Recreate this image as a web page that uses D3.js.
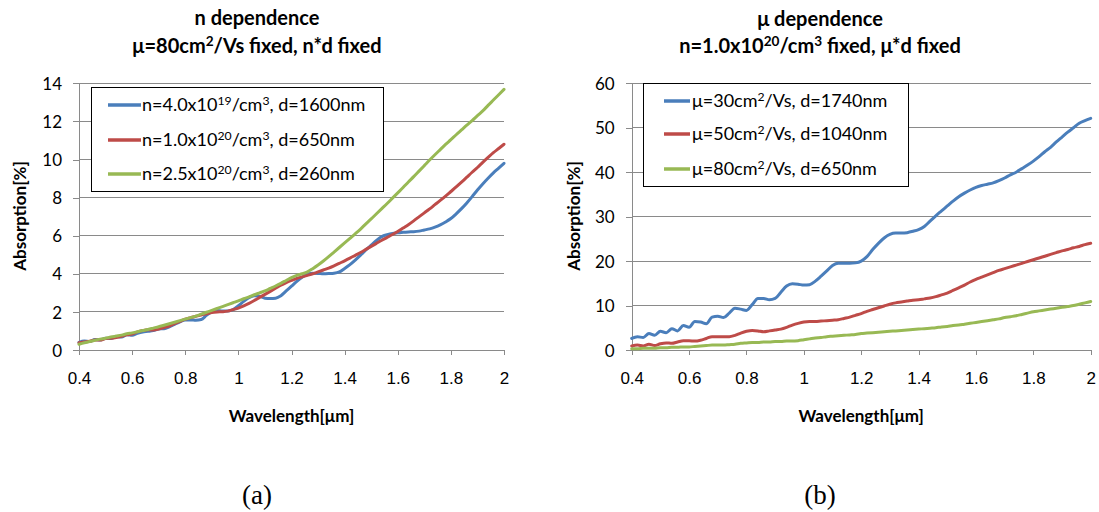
<!DOCTYPE html>
<html>
<head>
<meta charset="utf-8">
<script src="https://cdn.jsdelivr.net/npm/d3@7"></script>
<style>
  html, body { margin: 0; padding: 0; background: #fff; }
  svg { display: block; }
  .title { font-family: Lato, "Open Sans", sans-serif; font-weight: bold; font-size: 20px; fill: #000; }
  .axis-title { font-family: Lato, "Open Sans", sans-serif; font-weight: bold; font-size: 17px; fill: #000; }
  .ytick { font-family: Lato, "Open Sans", sans-serif; font-size: 17px; fill: #000; }
  .xtick { font-family: "Liberation Sans", Arial, sans-serif; font-size: 17px; fill: #000; }
  .legend { font-family: Lato, "Open Sans", sans-serif; font-size: 18px; fill: #000; }
  .caption { font-family: "Liberation Serif", "Times New Roman", serif; font-size: 27px; fill: #000; }
</style>
</head>
<body>
<svg id="chart" width="1099" height="512"></svg>
<script>
// Wavelength grid shared by every series (µm)
const wavelength = [
  0.40, 0.42, 0.44, 0.46, 0.48, 0.50, 0.52, 0.54, 0.56, 0.58,
  0.60, 0.62, 0.64, 0.66, 0.68, 0.70, 0.72, 0.74, 0.76, 0.78,
  0.80, 0.82, 0.84, 0.86, 0.88, 0.90, 0.92, 0.94, 0.96, 0.98,
  1.00, 1.02, 1.04, 1.06, 1.08, 1.10, 1.12, 1.14, 1.16, 1.18,
  1.20, 1.22, 1.24, 1.26, 1.28, 1.30, 1.32, 1.34, 1.36, 1.38,
  1.40, 1.42, 1.44, 1.46, 1.48, 1.50, 1.52, 1.54, 1.56, 1.58,
  1.60, 1.62, 1.64, 1.66, 1.68, 1.70, 1.72, 1.74, 1.76, 1.78,
  1.80, 1.82, 1.84, 1.86, 1.88, 1.90, 1.92, 1.94, 1.96, 1.98,
  2.00
];

// (a) n dependence: absorption [%]
const absN40e19 = [
  0.40, 0.47, 0.44, 0.55, 0.52, 0.62, 0.60, 0.70, 0.68, 0.80,
  0.78, 0.88, 0.95, 0.98, 1.02, 1.10, 1.12, 1.22, 1.35, 1.48,
  1.58, 1.58, 1.56, 1.60, 1.82, 2.00, 2.08, 2.05, 2.05, 2.12,
  2.32, 2.55, 2.75, 2.85, 2.82, 2.72, 2.70, 2.72, 2.85, 3.10,
  3.35, 3.60, 3.82, 3.98, 4.03, 4.02, 4.00, 4.01, 4.03, 4.10,
  4.28, 4.48, 4.72, 4.98, 5.25, 5.50, 5.75, 5.95, 6.05, 6.12,
  6.15, 6.18, 6.20, 6.21, 6.24, 6.30, 6.36, 6.45, 6.57, 6.72,
  6.90, 7.15, 7.42, 7.72, 8.05, 8.40, 8.72, 9.02, 9.30, 9.55,
  9.80
];
const absN10e20 = [
  0.38, 0.42, 0.46, 0.52, 0.52, 0.60, 0.62, 0.66, 0.72, 0.80,
  0.84, 0.95, 1.02, 1.06, 1.05, 1.10, 1.18, 1.26, 1.38, 1.50,
  1.62, 1.70, 1.77, 1.84, 1.90, 1.97, 2.00, 2.01, 2.04, 2.12,
  2.20, 2.32, 2.45, 2.60, 2.76, 2.92, 3.08, 3.24, 3.40, 3.53,
  3.65, 3.76, 3.84, 3.92, 4.00, 4.10, 4.20, 4.30, 4.42, 4.55,
  4.68, 4.82, 4.97, 5.12, 5.28, 5.44, 5.60, 5.76, 5.91, 6.06,
  6.22, 6.40, 6.58, 6.78, 6.99, 7.20, 7.41, 7.63, 7.85, 8.08,
  8.32, 8.56, 8.81, 9.07, 9.33, 9.58, 9.85, 10.11, 10.36, 10.58,
  10.80
];
const absN25e20 = [
  0.30, 0.38, 0.45, 0.51, 0.57, 0.62, 0.68, 0.73, 0.78, 0.85,
  0.90, 0.96, 1.02, 1.08, 1.15, 1.22, 1.30, 1.38, 1.46, 1.54,
  1.62, 1.70, 1.78, 1.88, 1.98, 2.08, 2.18, 2.28, 2.38, 2.48,
  2.58, 2.69, 2.79, 2.90, 3.00, 3.10, 3.23, 3.36, 3.50, 3.65,
  3.80, 3.92, 4.00, 4.10, 4.27, 4.46, 4.67, 4.90, 5.14, 5.38,
  5.62, 5.86, 6.10, 6.35, 6.62, 6.88, 7.15, 7.42, 7.69, 7.97,
  8.25, 8.53, 8.82, 9.10, 9.39, 9.68, 9.97, 10.25, 10.52, 10.79,
  11.04, 11.30, 11.55, 11.80, 12.04, 12.30, 12.55, 12.84, 13.12, 13.40,
  13.68
];

// (b) µ dependence: absorption [%]
const absMu30 = [
  2.6, 3.0, 2.8, 3.7, 3.3, 4.2, 3.9, 4.8, 4.3, 5.5,
  5.1, 6.4, 6.3, 5.9, 7.4, 7.6, 7.3, 8.3, 9.4, 9.2,
  8.9, 10.2, 11.6, 11.6, 11.3, 11.6, 13.0, 14.4, 14.9, 14.8,
  14.6, 14.7, 15.5, 16.6, 17.8, 19.0, 19.5, 19.5, 19.5, 19.6,
  20.0, 21.0, 22.6, 24.0, 25.2, 26.0, 26.3, 26.3, 26.4, 26.7,
  27.1, 27.8, 29.0, 30.2, 31.3, 32.4, 33.5, 34.5, 35.3, 36.0,
  36.6, 37.0, 37.3, 37.6, 38.1, 38.7, 39.4, 40.0, 40.8, 41.6,
  42.5, 43.5, 44.6, 45.6, 46.8, 47.9, 49.0, 50.0, 51.0, 51.6,
  52.1
];
const absMu50 = [
  0.9, 1.1, 0.9, 1.3, 1.0, 1.4, 1.6, 1.5, 1.8, 2.1,
  2.1, 2.0, 2.2, 2.6, 3.0, 3.0, 3.0, 3.0, 3.3, 3.8,
  4.2, 4.4, 4.3, 4.1, 4.3, 4.5, 4.7, 5.1, 5.6, 6.0,
  6.3, 6.4, 6.4, 6.5, 6.6, 6.7, 6.8, 7.1, 7.4, 7.8,
  8.2, 8.7, 9.1, 9.5, 9.9, 10.3, 10.6, 10.8, 11.0, 11.2,
  11.3, 11.5, 11.7, 12.0, 12.4, 12.8, 13.4, 14.0, 14.6, 15.3,
  15.9, 16.4, 16.9, 17.4, 17.9, 18.3, 18.7, 19.1, 19.5, 19.9,
  20.3, 20.7, 21.1, 21.5, 21.9, 22.3, 22.6, 23.0, 23.3, 23.7,
  24.0
];
const absMu80 = [
  0.3, 0.3, 0.4, 0.4, 0.4, 0.5, 0.5, 0.6, 0.6, 0.7,
  0.7, 0.8, 0.9, 1.0, 1.1, 1.1, 1.1, 1.2, 1.3, 1.5,
  1.6, 1.7, 1.7, 1.8, 1.8, 1.9, 1.9, 2.0, 2.0, 2.1,
  2.3, 2.5, 2.7, 2.8, 3.0, 3.1, 3.2, 3.3, 3.4, 3.5,
  3.7, 3.8, 3.9, 4.0, 4.1, 4.2, 4.3, 4.4, 4.5, 4.6,
  4.7, 4.8, 4.9, 5.0, 5.2, 5.3, 5.5, 5.6, 5.8, 6.0,
  6.2, 6.4, 6.6, 6.8, 7.0, 7.3, 7.5, 7.7, 8.0, 8.3,
  8.6, 8.8, 9.0, 9.2, 9.4, 9.6, 9.8, 10.0, 10.3, 10.6,
  10.9
];

// Axis ticks
const xTicks = [0.4, 0.6, 0.8, 1.0, 1.2, 1.4, 1.6, 1.8, 2.0];
const xTickLabels = ["0.4", "0.6", "0.8", "1", "1.2", "1.4", "1.6", "1.8", "2"];
const yTicksA = [0, 2, 4, 6, 8, 10, 12, 14];
const yTicksB = [0, 10, 20, 30, 40, 50, 60];

// Legend entries: text pieces, superscripts marked with sup:true
const legendA = [
  [{t: "n=4.0x10"}, {t: "19", sup: true}, {t: "/cm"}, {t: "3", sup: true}, {t: ", d=1600nm"}],
  [{t: "n=1.0x10"}, {t: "20", sup: true}, {t: "/cm"}, {t: "3", sup: true}, {t: ", d=650nm"}],
  [{t: "n=2.5x10"}, {t: "20", sup: true}, {t: "/cm"}, {t: "3", sup: true}, {t: ", d=260nm"}]
];
const legendB = [
  [{t: "μ=30cm"}, {t: "2", sup: true}, {t: "/Vs, d=1740nm"}],
  [{t: "μ=50cm"}, {t: "2", sup: true}, {t: "/Vs, d=1040nm"}],
  [{t: "μ=80cm"}, {t: "2", sup: true}, {t: "/Vs, d=650nm"}]
];
const titleA = [
  [{t: "n dependence"}],
  [{t: "μ=80cm"}, {t: "2", sup: true}, {t: "/Vs fixed, n*d fixed"}]
];
const titleB = [
  [{t: "μ dependence"}],
  [{t: "n=1.0x10"}, {t: "20", sup: true}, {t: "/cm"}, {t: "3", sup: true}, {t: " fixed, μ*d fixed"}]
];

const colors = ["#4A7EBB", "#BE4B48", "#98B954"];
const gridColor = "#8a8a8a";

const svg = d3.select("#chart");

function richText(sel, pieces) {
  pieces.forEach(p => {
    const ts = sel.append("tspan").text(p.t);
    if (p.sup) ts.attr("font-size", "0.68em").attr("baseline-shift", "48%");
  });
}

function panel(opt) {
  const g = svg.append("g");
  const x = d3.scaleLinear().domain([0.4, 2.0]).range(opt.xRange);
  const y = d3.scaleLinear().domain([0, opt.yMax]).range(opt.yRange);

  // horizontal gridlines
  g.append("g").selectAll("line").data(opt.yTicks.filter(v => v > 0)).join("line")
    .attr("x1", opt.xRange[0]).attr("x2", opt.xRange[1])
    .attr("y1", d => y(d)).attr("y2", d => y(d))
    .attr("stroke", gridColor).attr("stroke-width", 1).attr("shape-rendering", "crispEdges");

  // y axis
  const yAxis = g.append("g")
    .attr("transform", `translate(${opt.xRange[0]},0)`)
    .call(d3.axisLeft(y).tickValues(opt.yTicks).tickSize(6).tickPadding(11).tickFormat(d3.format("d")));
  yAxis.select(".domain").attr("stroke", gridColor).attr("shape-rendering", "crispEdges");
  yAxis.selectAll(".tick line").attr("stroke", gridColor).attr("shape-rendering", "crispEdges");
  yAxis.selectAll(".tick text").attr("class", "ytick").attr("font-family", null).attr("font-size", null).attr("dy", "0.36em");

  // x axis
  const xAxis = g.append("g")
    .attr("transform", `translate(0,${opt.yRange[0]})`)
    .call(d3.axisBottom(x).tickValues(xTicks).tickSize(5).tickPadding(17)
      .tickFormat((d, i) => xTickLabels[i]));
  xAxis.select(".domain").attr("stroke", gridColor).attr("shape-rendering", "crispEdges");
  xAxis.selectAll(".tick line").attr("stroke", gridColor).attr("shape-rendering", "crispEdges");
  xAxis.selectAll(".tick text").attr("class", "xtick").attr("font-family", null).attr("font-size", null);

  // series
  const line = d3.line()
    .x((d, i) => x(wavelength[i]))
    .y(d => y(d))
    .curve(d3.curveMonotoneX);
  opt.series.forEach((s, k) => {
    g.append("path").datum(s)
      .attr("d", line)
      .attr("fill", "none")
      .attr("stroke", colors[k])
      .attr("stroke-width", 3)
      .attr("stroke-linejoin", "round")
      .attr("stroke-linecap", "round");
  });

  // legend
  const L = opt.legend;
  g.append("rect")
    .attr("x", L.x).attr("y", L.y).attr("width", L.w).attr("height", L.h)
    .attr("fill", "#fff").attr("stroke", "#000").attr("stroke-width", 1)
    .attr("shape-rendering", "crispEdges");
  opt.legendItems.forEach((pieces, k) => {
    const cy = L.rowY[k];
    g.append("line")
      .attr("x1", L.lineX[0]).attr("x2", L.lineX[1])
      .attr("y1", cy).attr("y2", cy)
      .attr("stroke", colors[k]).attr("stroke-width", 3.5);
    const t = g.append("text").attr("class", "legend")
      .attr("x", L.textX).attr("y", cy + 6);
    richText(t, pieces);
  });

  // titles
  opt.title.forEach((pieces, k) => {
    const t = g.append("text").attr("class", "title")
      .attr("x", opt.titleX).attr("y", opt.titleY[k]).attr("text-anchor", "middle");
    richText(t, pieces);
  });

  // axis titles
  g.append("text").attr("class", "axis-title")
    .attr("x", (opt.xRange[0] + opt.xRange[1]) / 2).attr("y", 422)
    .attr("text-anchor", "middle").text("Wavelength[μm]");
  g.append("text").attr("class", "axis-title")
    .attr("transform", `translate(${opt.yTitleX},216) rotate(-90)`)
    .attr("text-anchor", "middle").text("Absorption[%]");

  // caption
  g.append("text").attr("class", "caption")
    .attr("x", opt.titleX).attr("y", 504).attr("text-anchor", "middle")
    .text(opt.caption);
}

panel({
  xRange: [79, 504], yRange: [350, 83.3], yMax: 14, yTicks: yTicksA,
  series: [absN40e19, absN10e20, absN25e20],
  legend: {x: 91, y: 87, w: 292, h: 104, rowY: [105, 140, 174], lineX: [108, 141], textX: 142},
  legendItems: legendA,
  title: titleA, titleX: 257, titleY: [25, 53],
  yTitleX: 26, caption: "(a)"
});

panel({
  xRange: [631.7, 1090.7], yRange: [350, 83.3], yMax: 60, yTicks: yTicksB,
  series: [absMu30, absMu50, absMu80],
  legend: {x: 643, y: 83, w: 265, h: 103, rowY: [101, 134, 169], lineX: [664, 690], textX: 692},
  legendItems: legendB,
  title: titleB, titleX: 820, titleY: [26, 53],
  yTitleX: 580, caption: "(b)"
});
</script>
</body>
</html>
